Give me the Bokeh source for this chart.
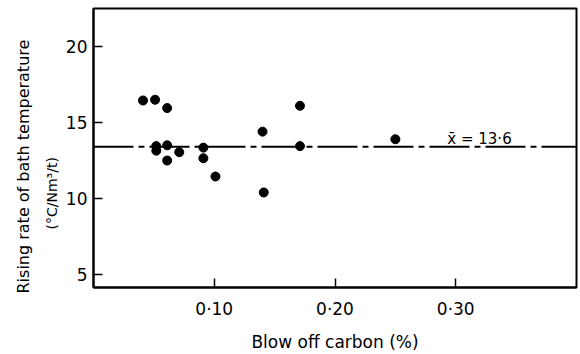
from bokeh.plotting import figure
from bokeh.models import FixedTicker, Span, Label, Title
from bokeh.embed import file_html
from bokeh.resources import INLINE

# Data
blow_off_carbon = [0.041, 0.051, 0.061, 0.052, 0.052, 0.061, 0.071, 0.061,
                   0.091, 0.091, 0.101, 0.140, 0.141, 0.171, 0.171, 0.250]
rising_rate = [16.45, 16.5, 15.95, 13.45, 13.15, 13.5, 13.05, 12.5,
               13.35, 12.65, 11.45, 14.4, 10.4, 16.1, 13.45, 13.9]
mean_line_y = 13.4
mean_label = "x\u0304 = 13\u00b76"
x_ticks = [0.1, 0.2, 0.3]
x_tick_labels = ["0\u00b710", "0\u00b720", "0\u00b730"]
y_ticks = [5, 10, 15, 20]
y_label_1 = "Rising rate of bath temperature"
y_label_2 = "(\u00b0C/Nm\u00b3/t)"
x_label = "Blow off carbon (%)"

FONT = "DejaVu Sans"

p = figure(width=580, height=354, output_backend="svg", toolbar_location=None,
           x_range=(0.0, 0.40), y_range=(4.15, 22.5),
           min_border_left=93, min_border_right=4, min_border_top=8,
           min_border_bottom=63)
p.xgrid.visible = False
p.ygrid.visible = False
p.outline_line_color = "black"
p.outline_line_width = 2
p.outline_line_alpha = 1.0
p.background_fill_color = "white"
p.border_fill_color = "white"

p.xaxis.ticker = FixedTicker(ticks=x_ticks)
p.xaxis.major_label_overrides = {t: l for t, l in zip(x_ticks, x_tick_labels)}
p.yaxis.ticker = FixedTicker(ticks=y_ticks)
for ax in (p.xaxis, p.yaxis):
    ax.major_tick_in = 9
    ax.major_tick_out = 0
    ax.minor_tick_in = 0
    ax.minor_tick_out = 0
    ax.major_tick_line_color = "black"
    ax.major_tick_line_width = 1.5
    ax.axis_line_color = "black"
    ax.axis_line_width = 2
    ax.major_label_text_font = FONT
    ax.major_label_text_font_size = "17px"
    ax.major_label_text_color = "black"
p.yaxis.major_label_standoff = 6
p.xaxis.major_label_standoff = 11

p.xaxis.axis_label = x_label
p.xaxis.axis_label_text_font = FONT
p.xaxis.axis_label_text_font_size = "17px"
p.xaxis.axis_label_text_font_style = "normal"
p.xaxis.axis_label_text_color = "black"
p.xaxis.axis_label_standoff = 10

t2 = Title(text=y_label_2, align="left", offset=58, standoff=6,
           text_font=FONT, text_font_size="14px", text_font_style="normal",
           text_color="black")
t1 = Title(text=y_label_1, align="left", offset=-6, standoff=11,
           text_font=FONT, text_font_size="16px", text_font_style="normal",
           text_color="black")
p.add_layout(t2, "left")
p.add_layout(t1, "left")

p.add_layout(Span(location=mean_line_y, dimension="width", line_color="black",
                  line_width=2, line_dash="40 5 6 5"))

p.scatter(blow_off_carbon, rising_rate, size=9, color="black")

p.add_layout(Label(x=0.293, y=13.92, text=mean_label, text_font=FONT,
                   text_font_size="15px", text_color="black",
                   text_baseline="middle", text_align="left"))

open("out.html", "w").write(file_html(p, INLINE))
